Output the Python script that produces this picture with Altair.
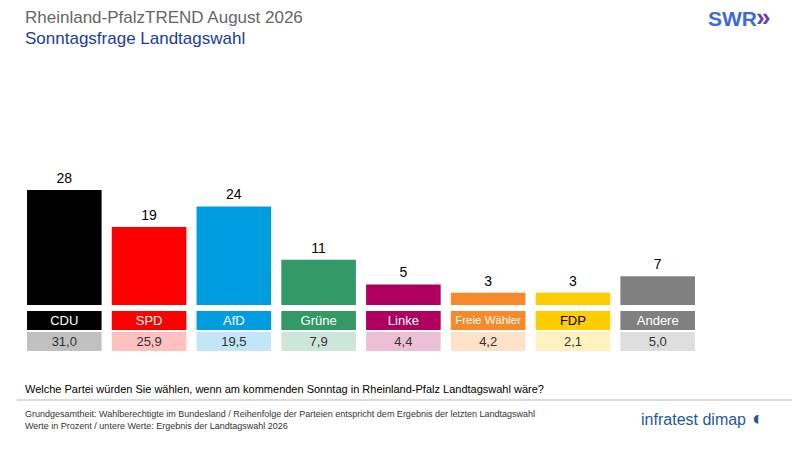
import altair as alt
import pandas as pd

parties = ["CDU", "SPD", "AfD", "Grüne", "Linke", "Freie Wähler", "FDP", "Andere"]
values = [28, 19, 24, 11, 5, 3, 3, 7]
previous = ["31,0", "25,9", "19,5", "7,9", "4,4", "4,2", "2,1", "5,0"]
colors = ["#000000", "#ff0000", "#009ee0", "#339966", "#b0005f", "#f6892a", "#ffcc00", "#808080"]
light = ["#c0c0c0", "#ffc0c0", "#c2e6f8", "#cce6d9", "#ebc0d7", "#fde1c9", "#fff2bf", "#dedede"]
namecol = ["white"] * 6 + ["black", "white"]
namesize = [13, 13, 13, 13, 13, 11.5, 13, 13]

df = pd.DataFrame({"party": parties, "value": values, "prev": previous,
                   "color": colors, "light": light, "namecol": namecol, "ns": namesize})

X = alt.X("party:N", sort=parties, axis=None,
          scale=alt.Scale(range=[19, 687], paddingInner=0.12, paddingOuter=0))
Y = alt.Y("value:Q", axis=None, scale=alt.Scale(domain=[0, 70], range=[297, 9.5]))

base = alt.Chart(df)
bars = base.mark_bar().encode(x=X, y=Y, y2=alt.datum(0), color=alt.Color("color:N", scale=None))
vals = base.mark_text(dy=-11, fontSize=14, font="Arial", color="black").encode(
    x=X, y=Y, text="value:Q")
box1 = base.mark_bar().encode(x=X, y=alt.value(303), y2=alt.value(322),
                              color=alt.Color("color:N", scale=None))
name = base.mark_text(font="Arial").encode(
    x=X, y=alt.value(313), text="party:N", color=alt.Color("namecol:N", scale=None),
    size=alt.Size("ns:Q", scale=None))
box2 = base.mark_bar().encode(x=X, y=alt.value(324), y2=alt.value(343),
                              color=alt.Color("light:N", scale=None))
prev = base.mark_text(fontSize=13, font="Arial", color="#333").encode(
    x=X, y=alt.value(334), text="prev:N")

def txt(s, x, y, size, color, weight="normal", align="left"):
    return alt.Chart(pd.DataFrame({"t": [s]})).mark_text(
        align=align, baseline="middle", fontSize=size, font="Arial",
        color=color, fontWeight=weight).encode(x=alt.value(x), y=alt.value(y), text="t:N")

title = txt("Rheinland-PfalzTREND August 2026", 17, 10, 17, "#666666")
sub = txt("Sonntagsfrage Landtagswahl", 17, 31, 17, "#1a3d9e")
swr = txt("SWR", 700, 12, 21, "#3d6bd6", "bold")
swr2 = txt("»", 748, 10, 26, "#6a3fb5", "bold")
q = txt("Welche Partei würden Sie wählen, wenn am kommenden Sonntag in Rheinland-Pfalz Landtagswahl wäre?",
        17, 382, 11, "black")
f1 = txt("Grundgesamtheit: Wahlberechtigte im Bundesland / Reihenfolge der Parteien entspricht dem Ergebnis der letzten Landtagswahl",
         17, 406, 9, "#333")
f2 = txt("Werte in Prozent / untere Werte: Ergebnis der Landtagswahl 2026", 17, 418, 9, "#333")
infra = txt("infratest dimap", 738, 412, 16, "#1f5a96", align="right")
icon = txt("◐", 744, 411, 20, "#1f5a96")
rule = alt.Chart(pd.DataFrame({"a": [0]})).mark_rule(color="#999", strokeWidth=0.7).encode(
    x=alt.value(9), x2=alt.value(784), y=alt.value(392))

chart = alt.layer(bars, vals, box1, name, box2, prev, title, sub, swr, swr2, q, f1, f2,
                  infra, icon, rule).properties(
    width=784, height=434, autosize=alt.AutoSizeParams(type="none"), padding=0
).configure_view(stroke=None)

chart.save("out.html", embed_options={"renderer": "svg", "actions": False})
